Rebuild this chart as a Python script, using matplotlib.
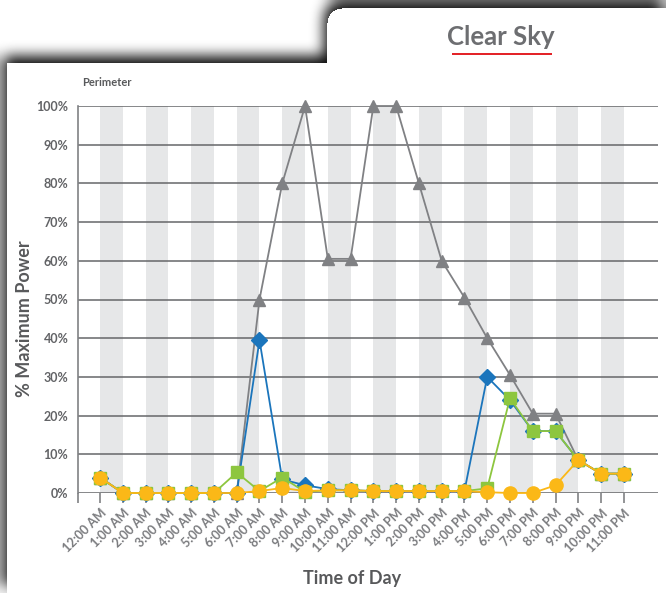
import numpy as np
import matplotlib
matplotlib.use("Agg")
import matplotlib.pyplot as plt

# hourly output as a share of peak power
hours = ["12:00 AM", "1:00 AM", "2:00 AM", "3:00 AM", "4:00 AM", "5:00 AM",
         "6:00 AM", "7:00 AM", "8:00 AM", "9:00 AM", "10:00 AM", "11:00 AM",
         "12:00 PM", "1:00 PM", "2:00 PM", "3:00 PM", "4:00 PM", "5:00 PM",
         "6:00 PM", "7:00 PM", "8:00 PM", "9:00 PM", "10:00 PM", "11:00 PM"]
gray_vals = [4, 0, 0, 0, 0, 0, 0, 50, 80, 100, 60.5, 60.5, 100, 100, 80, 60,
             50.5, 40, 30.5, 20.5, 20.5, 8.5, 5, 5]
blue_vals = [4, 0, 0, 0, 0, 0, 0, 39.5, 3.5, 2, 1, 0.7, 0.5, 0.5, 0.5, 0.5,
             0.5, 30, 24, 16, 16, 8.5, 5, 5]
green_vals = [4, 0, 0, 0, 0, 0, 5.3, 0.5, 4, 0.3, 0.7, 0.7, 0.5, 0.5, 0.5, 0.5,
              0.5, 1.2, 24.5, 16, 16, 8.5, 5, 5]
orange_vals = [4, 0, 0, 0, 0, 0, 0, 0.5, 1.3, 0.5, 0.7, 0.7, 0.5, 0.5, 0.5, 0.5,
               0.5, 0.2, 0, 0, 2, 8.5, 5, 5]
yticks = list(range(0, 101, 10))

W, H = 666, 593
TXT = "#626366"


def blur1d(a, r, axis):
    a = np.moveaxis(a, axis, -1)
    p = np.pad(a, [(0, 0), (r + 1, r)], mode="edge")
    c = np.cumsum(p, axis=-1)
    out = (c[:, 2 * r + 1:] - c[:, :-2 * r - 1]) / (2 * r + 1)
    return np.moveaxis(out, -1, axis)


def blur(a, r, passes=3):
    for _ in range(passes):
        a = blur1d(blur1d(a, r, 0), r, 1)
    return a


# card shape: wide body plus a tab on the top right with a rounded corner
yy, xx = np.mgrid[0:H, 0:W]
card = ((xx >= 7) & (yy >= 63)) | ((xx >= 327) & (yy >= 8))
rad = 15
cx, cy = 327 + rad, 8 + rad
corner = (xx < cx) & (yy < cy) & ((xx - cx) ** 2 + (yy - cy) ** 2 > rad ** 2)
card &= ~corner

# drop shadow cast upward and slightly to the left
shifted = np.zeros_like(card, dtype=float)
shifted[:-7, :-3] = card[7:, 3:]
shadow = blur(shifted, 6)
bg = np.where(card, 1.0, 1 - 0.97 * shadow)
bg = np.clip(bg, 0, 1)

fig = plt.figure(figsize=(W / 100, H / 100), dpi=100)
bgax = fig.add_axes([0, 0, 1, 1])
bgax.imshow(bg, cmap="gray", vmin=0, vmax=1, extent=(0, W, H, 0), aspect="auto",
            interpolation="bilinear")
bgax.set_xlim(0, W)
bgax.set_ylim(H, 0)
bgax.axis("off")

bgax.text(501, 37, "Clear Sky", ha="center", va="center", fontsize=18.5,
          fontweight="bold", family="Lato", color="#6d6e71")
bgax.plot([452, 552], [54, 54], color="#e31e24", lw=1.4, solid_capstyle="butt")
bgax.text(82, 82, "Perimeter", ha="left", va="center", fontsize=8,
          fontweight="bold", family="Lato", color="#58595b")

ax = fig.add_axes([78 / W, (H - 493) / H, 580 / W, 387 / H])
ax.set_facecolor("none")
x = np.arange(len(hours))

# alternating hour bands
for i in range(0, len(hours), 2):
    ax.axvspan(i, i + 1, color="#e6e7e8", lw=0, zorder=0)

for v in yticks:
    ax.axhline(v, color="#666769", lw=1.1, zorder=1)

ax.plot(x, gray_vals, color="#808184", lw=1.3, marker="^", ms=8,
        zorder=3, clip_on=False)
ax.plot(x, blue_vals, color="#1b75bc", lw=1.3, marker="D", ms=8,
        zorder=4, clip_on=False)
ax.plot(x, green_vals, color="#8dc63f", lw=1.3, marker="s", ms=8.5,
        zorder=5, clip_on=False)
ax.plot(x, orange_vals, color="#fbb817", lw=1.3, marker="o", ms=9.5,
        zorder=6, clip_on=False)

ax.set_xlim(-0.97, 24.5)
ax.set_ylim(0, 100)
ax.set_yticks(yticks)
ax.set_yticklabels([f"{v}%" for v in yticks])
ax.set_xticks(list(x) + [-0.97])
ax.set_xticklabels(hours + [""])

for s in ["top", "right", "bottom"]:
    ax.spines[s].set_visible(False)
ax.spines["left"].set_color("#808184")
ax.spines["left"].set_linewidth(1.2)

ax.tick_params(axis="y", length=0, pad=7, labelsize=9, labelcolor=TXT)
ax.tick_params(axis="x", length=7, width=1.2, color="#808184", pad=3,
               labelsize=9, labelcolor="#7a7b7e")
for lab in ax.get_yticklabels():
    lab.set_family("Lato")
    lab.set_fontweight("bold")
for lab in ax.get_xticklabels():
    lab.set_family("Lato")
    lab.set_fontweight("bold")
    lab.set_rotation(45)
    lab.set_ha("right")
    lab.set_rotation_mode("anchor")

ax.set_ylabel("% Maximum Power", fontsize=13, fontweight="bold",
              family="Lato", color="#58595b", va="center")
ax.yaxis.set_label_coords(-0.092, 0.45)
ax.set_xlabel("Time of Day", fontsize=13, fontweight="bold", family="Lato",
              color="#58595b", va="center")
ax.xaxis.set_label_coords(0.472, -0.22)

fig.savefig("out.png", dpi=100)
